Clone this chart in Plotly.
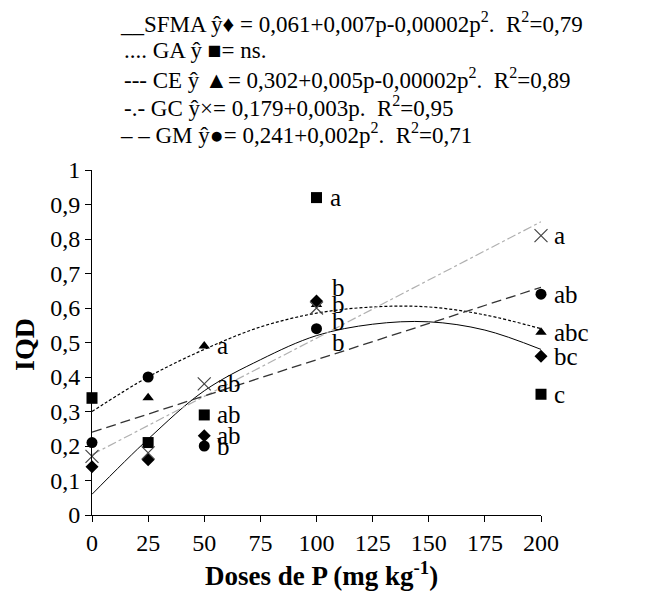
import plotly.graph_objects as go

# ---------------- data ----------------
doses = [0, 25, 50, 100, 200]
sfma = [0.14, 0.16, 0.23, 0.62, 0.46]
ga = [0.34, 0.21, 0.29, 0.92, 0.35]
ce = [0.33, 0.34, 0.49, 0.61, 0.53]
gc = [0.17, 0.18, 0.38, 0.60, 0.81]
gm = [0.21, 0.40, 0.20, 0.54, 0.64]

# fitted curves
curve_p = [0, 25, 50, 75, 100, 125, 150, 175, 200]
sfma_fit = [0.06, 0.22, 0.36, 0.45, 0.52, 0.553, 0.56, 0.536, 0.48]
ce_fit = [0.30, 0.40, 0.48, 0.545, 0.585, 0.603, 0.603, 0.58, 0.54]
line_p = [0, 200]
gc_fit = [0.175, 0.85]
gm_fit = [0.24, 0.66]

# letters (dose, value, text)
letters_x = [100, 200, 200, 200, 200, 200, 50, 50, 50, 50, 50, 109, 109, 109, 109]
letters_y = [0.92, 0.81, 0.64, 0.53, 0.46, 0.35, 0.49, 0.38, 0.29, 0.23, 0.20, 0.66, 0.61, 0.56, 0.50]
letters_t = ["a", "a", "ab", "abc", "bc", "c", "a", "ab", "ab", "ab", "b", "b", "b", "b", "b"]

y_ticks = [0, 0.1, 0.2, 0.3, 0.4, 0.5, 0.6, 0.7, 0.8, 0.9, 1]
y_ticktext = ["0", "0,1", "0,2", "0,3", "0,4", "0,5", "0,6", "0,7", "0,8", "0,9", "1"]
x_ticks = [0, 25, 50, 75, 100, 125, 150, 175, 200]

legend_lines = [
    "__SFMA ŷ♦ = 0,061+0,007p-0,00002p<sup>2</sup>.  R<sup>2</sup>=0,79",
    ".... GA ŷ ■= ns.",
    "--- CE ŷ ▲= 0,302+0,005p-0,00002p<sup>2</sup>.  R<sup>2</sup>=0,89",
    "-.- GC ŷ×= 0,179+0,003p.  R<sup>2</sup>=0,95",
    "– – GM ŷ●= 0,241+0,002p<sup>2</sup>.  R<sup>2</sup>=0,71",
]

FONT = "Liberation Serif"
OFF = 8  # default page body margin
W, H = 651 - OFF, 591 - OFF
L, R, T, B = 92 - OFF, 110, 170 - OFF, 76

fig = go.Figure()

# fitted lines
fig.add_trace(go.Scatter(x=curve_p, y=sfma_fit, mode="lines", line=dict(color="black", width=1, shape="spline")))
fig.add_trace(go.Scatter(x=curve_p, y=ce_fit, mode="lines", line=dict(color="black", width=1.2, dash="3px,2px", shape="spline")))
fig.add_trace(go.Scatter(x=line_p, y=gc_fit, mode="lines", line=dict(color="#b0b0b0", width=1.2, dash="dashdot")))
fig.add_trace(go.Scatter(x=line_p, y=gm_fit, mode="lines", line=dict(color="#333333", width=1.3, dash="10px,5px")))

# markers
fig.add_trace(go.Scatter(x=doses, y=ga, mode="markers", marker=dict(symbol="square", size=11, color="black"), cliponaxis=False))
fig.add_trace(go.Scatter(x=doses, y=ce, mode="markers", marker=dict(symbol="triangle-up", size=10, color="black"), cliponaxis=False))
fig.add_trace(go.Scatter(x=doses, y=gm, mode="markers", marker=dict(symbol="circle", size=11, color="black"), cliponaxis=False))
fig.add_trace(go.Scatter(x=doses, y=sfma, mode="markers", marker=dict(symbol="diamond", size=10, color="black"), cliponaxis=False))
fig.add_trace(go.Scatter(x=doses, y=gc, mode="markers",
                         marker=dict(symbol="x-thin-open", size=13, color="#444444", line=dict(width=1.2, color="#444444")),
                         cliponaxis=False))

annotations = []
for xv, yv, t in zip(letters_x, letters_y, letters_t):
    annotations.append(dict(x=xv, y=yv, xref="x", yref="y", text=t, showarrow=False,
                            xanchor="left", yanchor="middle", xshift=11 if xv != 109 else -7,
                            font=dict(family=FONT, size=25, color="black")))

pw, ph = W - L - R, H - T - B
def px(xp):
    return (xp - OFF - L) / pw
def py(yp):
    return (H - B - (yp - OFF)) / ph

legend_x = [118, 122, 122, 122, 118]
legend_y = [22, 50, 78, 106, 134]
for lx, ly, txt in zip(legend_x, legend_y, legend_lines):
    annotations.append(dict(x=px(lx), y=py(ly), xref="paper", yref="paper", text=txt, showarrow=False,
                            xanchor="left", yanchor="middle",
                            font=dict(family=FONT, size=23, color="black")))

annotations.append(dict(x=px(24), y=py(345), xref="paper", yref="paper", text="<b>IQD</b>", showarrow=False,
                        textangle=-90, xanchor="center", yanchor="middle",
                        font=dict(family=FONT, size=28, color="black")))
annotations.append(dict(x=px(321), y=py(574), xref="paper", yref="paper",
                        text="<b>Doses de P (mg kg<sup>-1</sup>)</b>", showarrow=False,
                        xanchor="center", yanchor="middle",
                        font=dict(family=FONT, size=27, color="black")))

fig.update_layout(
    width=W, height=H,
    margin=dict(l=L, r=R, t=T, b=B),
    paper_bgcolor="white", plot_bgcolor="white",
    showlegend=False,
    annotations=annotations,
    font=dict(family=FONT, size=20, color="black"),
)
fig.update_xaxes(range=[0, 200], tickvals=x_ticks, showgrid=False, zeroline=False,
                 showline=True, linecolor="black", linewidth=1, ticks="outside", ticklen=6,
                 tickcolor="black", tickfont=dict(family=FONT, size=24, color="black"))
fig.update_yaxes(range=[0, 1], tickvals=y_ticks, ticktext=y_ticktext, showgrid=False, zeroline=False,
                 showline=True, linecolor="black", linewidth=1, ticks="outside", ticklen=6,
                 tickcolor="black", tickfont=dict(family=FONT, size=24, color="black"))

fig.write_html("out.html")
